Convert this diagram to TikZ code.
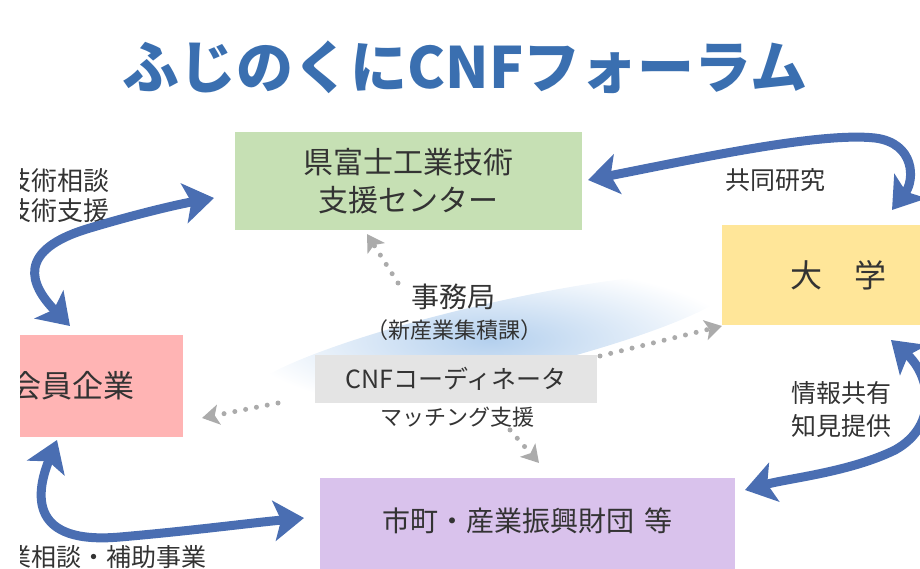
\documentclass[tikz,border=0pt]{standalone}
\usepackage{fontspec}
\newfontfamily\jp{Noto Sans CJK JP}
\usetikzlibrary{arrows.meta}
\definecolor{arrowblue}{HTML}{4A6EB2}
\definecolor{dotgray}{HTML}{ABABAB}
\definecolor{boxgreen}{HTML}{C6E0B4}
\definecolor{boxyellow}{HTML}{FFE699}
\definecolor{boxpink}{HTML}{FFB4B4}
\definecolor{boxpurple}{HTML}{D9C2EC}
\definecolor{boxgray}{HTML}{E4E4E4}
\definecolor{txt}{HTML}{333333}
\definecolor{titleblue}{HTML}{3A6FB0}
\definecolor{glowblue}{HTML}{B4D0EE}
\begin{document}
\begin{tikzpicture}[x=1pt,y=-1pt, font=\jp,
  box/.style={rectangle, inner sep=0pt, text=txt},
  lbl/.style={text=txt, inner sep=0pt},
  bluearrow/.style={draw=arrowblue, line width=9pt,
    {Stealth[length=30pt,width=40pt,inset=7pt]}-{Stealth[length=30pt,width=40pt,inset=7pt]}},
  dotarrow/.style={draw=dotgray, line width=5pt, line cap=round,
    dash pattern=on 0pt off 11pt, -{Stealth[length=17pt,width=20pt,inset=4pt]}}]
\useasboundingbox (0,0) rectangle (920,569);
\begin{scope}
\clip (20,0) rectangle (920,569);
% soft blue glow behind the secretariat
\shade[inner color=glowblue, outer color=white, rotate around={13:(490,340)}] (490,340) ellipse (250 and 36);

% title
\node[text=titleblue, font=\jp\bfseries\fontsize{57}{60}\selectfont, inner sep=0pt] (title) at (465,67) {ふじのくにCNFフォーラム};

% boxes
\node[box, fill=boxgreen, minimum width=347pt, minimum height=98pt, align=center,
  font=\jp\fontsize{30}{38}\selectfont] (kgc) at (408.5,181) {県富士工業技術\\支援センター};
\node[box, fill=boxyellow, minimum width=232pt, minimum height=100pt,
  font=\jp\fontsize{32}{32}\selectfont] (univ) at (838,275) {大　学};
\node[box, fill=boxpink, anchor=west, text width=173pt, align=left, minimum height=102pt,
  font=\jp\fontsize{31}{31}\selectfont] (member) at (10,386) {会員企業};
\node[box, fill=boxpurple, anchor=base, text height=53pt, text depth=44pt, text width=415pt,
  align=center, font=\jp\fontsize{28}{28}\selectfont] (muni) at (527.5,531) {市町・産業振興財団 等};
\node[box, fill=boxgray, minimum width=282pt, minimum height=48pt,
  font=\jp\fontsize{25}{25}\selectfont] (cnf) at (456,379) {CNFコーディネータ};

% centre texts
\node[lbl, font=\jp\fontsize{28}{28}\selectfont] (office) at (453,297) {事務局};
\node[lbl, font=\jp\fontsize{22}{22}\selectfont] (dept) at (454,330) {（新産業集積課）};
\node[lbl, font=\jp\fontsize{22}{22}\selectfont] (match) at (457,417) {マッチング支援};

% side labels
\node[lbl, font=\jp\fontsize{26}{26}\selectfont, anchor=east] (tech1) at (110,181) {技術相談};
\node[lbl, font=\jp\fontsize{26}{26}\selectfont, anchor=east] (tech2) at (110,211) {技術支援};
\node[lbl, font=\jp\fontsize{25}{25}\selectfont] (joint) at (775,180) {共同研究};
\node[lbl, font=\jp\fontsize{25}{25}\selectfont] (info1) at (841,393) {情報共有};
\node[lbl, font=\jp\fontsize{25}{25}\selectfont] (info2) at (841,426) {知見提供};
\node[lbl, font=\jp\fontsize{25}{25}\selectfont, anchor=east] (consult) at (207,557) {業相談・補助事業};

% blue two-headed arrows
\coordinate (a1a) at (70,326);  \coordinate (a1b) at (214,198);
\draw[bluearrow] (a1a) .. controls (30,285) and (15,250) .. (90,228) .. controls (140,213) and (180,204) .. (a1b);
\coordinate (a2a) at (588,180); \coordinate (a2b) at (892,210);
\draw[bluearrow] (a2a) .. controls (700,158) and (820,132) .. (875,138) .. controls (915,143) and (915,180) .. (a2b);
\coordinate (a3a) at (891,340); \coordinate (a3b) at (745,490);
\draw[bluearrow] (a3a) .. controls (930,375) and (940,425) .. (895,450) .. controls (850,472) and (790,478) .. (a3b);
\coordinate (a4a) at (57,440);  \coordinate (a4b) at (304,518);
\draw[bluearrow] (a4a) .. controls (35,495) and (30,545) .. (120,537) .. controls (190,531) and (250,523) .. (a4b);

% grey dotted arrows from the coordinator
\coordinate (d1s) at (398,283); \coordinate (d1e) at (367,234);
\draw[dotarrow] (d1s) -- (d1e);
\coordinate (d2s) at (600,356); \coordinate (d2e) at (722,326);
\draw[dotarrow] (d2s) -- (d2e);
\coordinate (d3s) at (278,403); \coordinate (d3e) at (202,418);
\draw[dotarrow] (d3s) -- (d3e);
\coordinate (d4s) at (510,430); \coordinate (d4e) at (539,463);
\draw[dotarrow] (d4s) -- (d4e);
\end{scope}
\end{tikzpicture}
\end{document}
